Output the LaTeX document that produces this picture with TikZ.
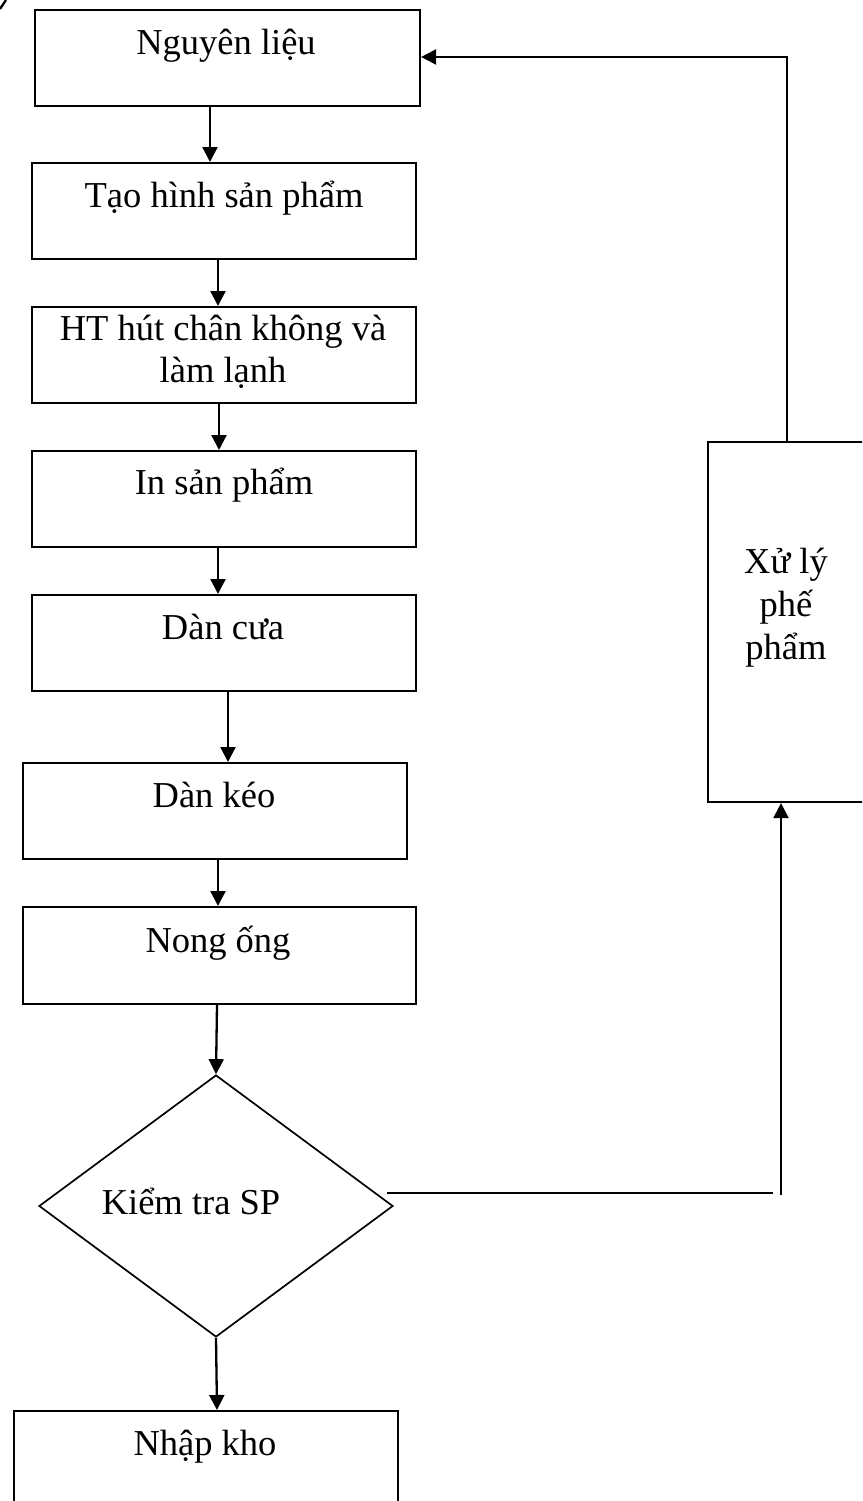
\documentclass[tikz,border=0pt]{standalone}
\usepackage{fontspec}
\setmainfont{Liberation Serif}
\usetikzlibrary{shapes.geometric,arrows.meta}
\begin{document}
\begin{tikzpicture}[x=1pt,y=-1pt,
  box/.style={draw,line width=2.1pt,rectangle,inner sep=0pt,anchor=north west},
  dmd/.style={draw,line width=1.7pt,diamond,inner sep=0pt},
  lbl/.style={anchor=base,inner sep=0pt,align=center,font=\fontsize{36.5}{42}\selectfont},
  link/.style={line width=2.3pt},
  arr/.style={line width=2.3pt,-{Triangle[length=15pt,width=15pt]}}]
\useasboundingbox (0,0) rectangle (862,1501);
\clip (0,0) rectangle (862,1501);
% boxes
\node[box,minimum width=385pt,minimum height=96pt] (nl) at (34,9) {};
\node[box,minimum width=384pt,minimum height=96pt] (th) at (31,162) {};
\node[box,minimum width=384pt,minimum height=96pt] (ht) at (31,306) {};
\node[box,minimum width=384pt,minimum height=96pt] (in) at (31,450) {};
\node[box,minimum width=384pt,minimum height=96pt] (dc) at (31,594) {};
\node[box,minimum width=384pt,minimum height=96pt] (dk) at (22,762) {};
\node[box,minimum width=393pt,minimum height=97pt] (no) at (22,906) {};
\node[box,minimum width=384pt,minimum height=130pt] (nk) at (13,1410) {};
\node[box,minimum width=158pt,minimum height=360pt] (xl) at (707,441) {};
\node[dmd,minimum width=354pt,minimum height=262pt] (dm) at (216,1206) {};
% texts
\node[lbl] (tnl) at (226,55) {Nguyên liệu};
\node[lbl] (tth) at (224,207) {Tạo hình sản phẩm};
\node[lbl] (tht1) at (223,340) {HT hút chân không và};
\node[lbl] (tht2) at (223,382) {làm lạnh};
\node[lbl] (tin) at (224,494) {In sản phẩm};
\node[lbl] (tdc) at (223,639) {Dàn cưa};
\node[lbl] (tdk) at (214,807) {Dàn kéo};
\node[lbl] (tno) at (218,952) {Nong ống};
\node[lbl] (tdm) at (191,1214) {Kiểm tra SP};
\node[lbl] (tnk) at (205,1455) {Nhập kho};
\node[lbl] (txl1) at (786,573) {Xử lý};
\node[lbl] (txl2) at (786,616) {phế};
\node[lbl] (txl3) at (786,659) {phẩm};
% main flow arrows
\draw[arr] (nl.south -| 210,0) -- (th.north -| 210,0);
\draw[arr] (th.south -| 218,0) -- (ht.north -| 218,0);
\draw[arr] (ht.south -| 219,0) -- (in.north -| 219,0);
\draw[arr] (in.south -| 218,0) -- (dc.north -| 218,0);
\draw[arr] (dc.south -| 228,0) -- (dk.north -| 228,0);
\draw[arr] (dk.south -| 218,0) -- (no.north -| 218,0);
\draw[arr] (no.south -| 217,0) -- (dm.north);
\draw[arr] (dm.south) -- (nk.north -| 217,0);
% feedback
\coordinate (fa) at (387,1193);
\coordinate (fb) at (773,1193);
\coordinate (fc) at (781,1195);
\draw[link] (fa) -- (fb);
\draw[arr] (fc) -- (xl.south -| fc);
\coordinate (fd) at (787,57);
\draw[arr] (xl.north -| fd) -- (fd) -- (nl.east |- fd);
% corner mark
\draw[link] (0,9) -- (6,0);
\end{tikzpicture}
\end{document}
